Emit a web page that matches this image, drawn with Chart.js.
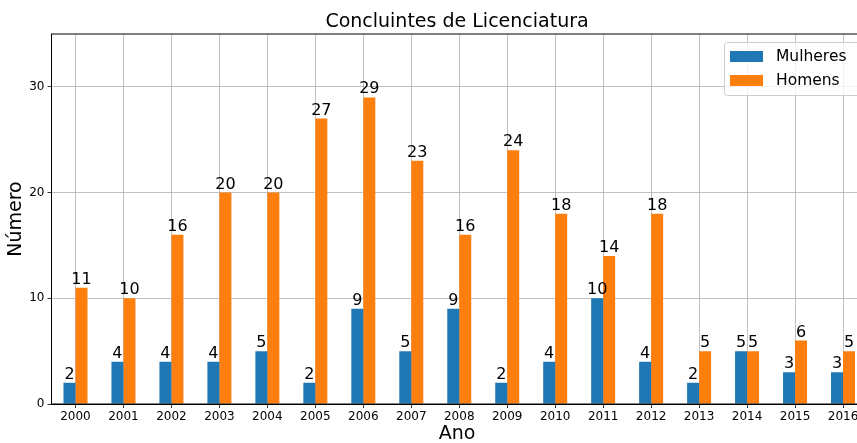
<!DOCTYPE html>
<html lang="pt">
<head>
    <meta charset="UTF-8">
    <title>Concluintes de Licenciatura</title>
    <script src="https://cdn.jsdelivr.net/npm/chart.js"></script>
    <style>
        body { margin: 0; overflow: hidden; background: #fff; }
        #wrap { width: 870px; height: 443px; }
    </style>
</head>
<body>
    <div id="wrap"><canvas id="concluintesChart" width="870" height="443"></canvas></div>

    <script>
        const anos = ['2000', '2001', '2002', '2003', '2004', '2005', '2006', '2007', '2008',
                      '2009', '2010', '2011', '2012', '2013', '2014', '2015', '2016'];
        const mulheres = [2, 4, 4, 4, 5, 2, 9, 5, 9, 2, 4, 10, 4, 2, 5, 3, 3];
        const homens = [11, 10, 16, 20, 20, 27, 29, 23, 16, 24, 18, 14, 18, 5, 5, 6, 5];
        const yTicks = [0, 10, 20, 30];

        const fontFam = "'DejaVu Sans', sans-serif";

        // titles, frame, value labels and legend box drawn by hand
        const extras = {
            id: 'extras',
            afterDatasetsDraw(chart) {
                const ctx = chart.ctx;
                ctx.save();
                ctx.fillStyle = '#000';
                ctx.font = '16px ' + fontFam;
                ctx.textAlign = 'center';
                ctx.textBaseline = 'alphabetic';
                chart.data.datasets.forEach((ds, i) => {
                    chart.getDatasetMeta(i).data.forEach((bar, j) => {
                        ctx.fillText(ds.data[j], bar.x, bar.y - 4);
                    });
                });
                ctx.restore();
            },
            afterDraw(chart) {
                const ctx = chart.ctx;
                const a = chart.chartArea;
                ctx.save();
                ctx.strokeStyle = '#000';
                ctx.lineWidth = 1;
                ctx.strokeRect(a.left, a.top, a.right - a.left, a.bottom - a.top);

                ctx.fillStyle = '#000';
                ctx.textAlign = 'center';
                ctx.textBaseline = 'middle';
                ctx.font = '19px ' + fontFam;
                ctx.fillText('Concluintes de Licenciatura', 457, 22);
                ctx.fillText('Ano', 457, 434);
                ctx.save();
                ctx.translate(16, 219);
                ctx.rotate(-Math.PI / 2);
                ctx.fillText('Número', 0, 0);
                ctx.restore();

                // legend
                const lx = 724.5, ly = 42.5, lw = 140, lh = 53;
                ctx.fillStyle = 'rgba(255,255,255,0.8)';
                ctx.strokeStyle = '#cccccc';
                ctx.beginPath();
                ctx.roundRect(lx, ly, lw, lh, 3);
                ctx.fill();
                ctx.stroke();
                ctx.font = '15.5px ' + fontFam;
                ctx.textAlign = 'left';
                chart.data.datasets.forEach((ds, i) => {
                    const yy = 51 + i * 24;
                    ctx.fillStyle = ds.backgroundColor;
                    ctx.fillRect(730, yy, 33, 11);
                    ctx.fillStyle = '#000';
                    ctx.fillText(ds.label, 776, yy + 6);
                });
                ctx.restore();
            }
        };

        const ctx = document.getElementById('concluintesChart').getContext('2d');
        const concluintesChart = new Chart(ctx, {
            type: 'bar',
            data: {
                labels: anos,
                datasets: [{
                    label: 'Mulheres',
                    data: mulheres,
                    backgroundColor: '#1f77b4',
                    barPercentage: 1,
                    categoryPercentage: 0.5
                }, {
                    label: 'Homens',
                    data: homens,
                    backgroundColor: '#ff7f0e',
                    barPercentage: 1,
                    categoryPercentage: 0.5
                }]
            },
            options: {
                responsive: false,
                animation: false,
                layout: { padding: { top: 34, right: 3, left: 0, bottom: 0 } },
                plugins: {
                    legend: { display: false },
                    tooltip: { enabled: false }
                },
                scales: {
                    x: {
                        offset: true,
                        grid: { offset: false, color: '#b0b0b0', lineWidth: 0.8, tickLength: 4, tickColor: '#000' },
                        border: { color: '#000' },
                        ticks: { color: '#000', font: { size: 12, family: fontFam }, padding: 2, maxRotation: 0, autoSkip: false },
                        afterFit(s) { s.height = 39; }
                    },
                    y: {
                        min: 0,
                        max: 35,
                        grid: { color: '#b0b0b0', lineWidth: 0.8, tickLength: 4, tickColor: '#000' },
                        border: { color: '#000' },
                        afterBuildTicks(s) { s.ticks = yTicks.map(v => ({ value: v })); },
                        ticks: { color: '#000', font: { size: 12, family: fontFam }, padding: 3 },
                        afterFit(s) { s.width = 51.5; }
                    }
                }
            },
            plugins: [extras]
        });
    </script>
</body>
</html>
